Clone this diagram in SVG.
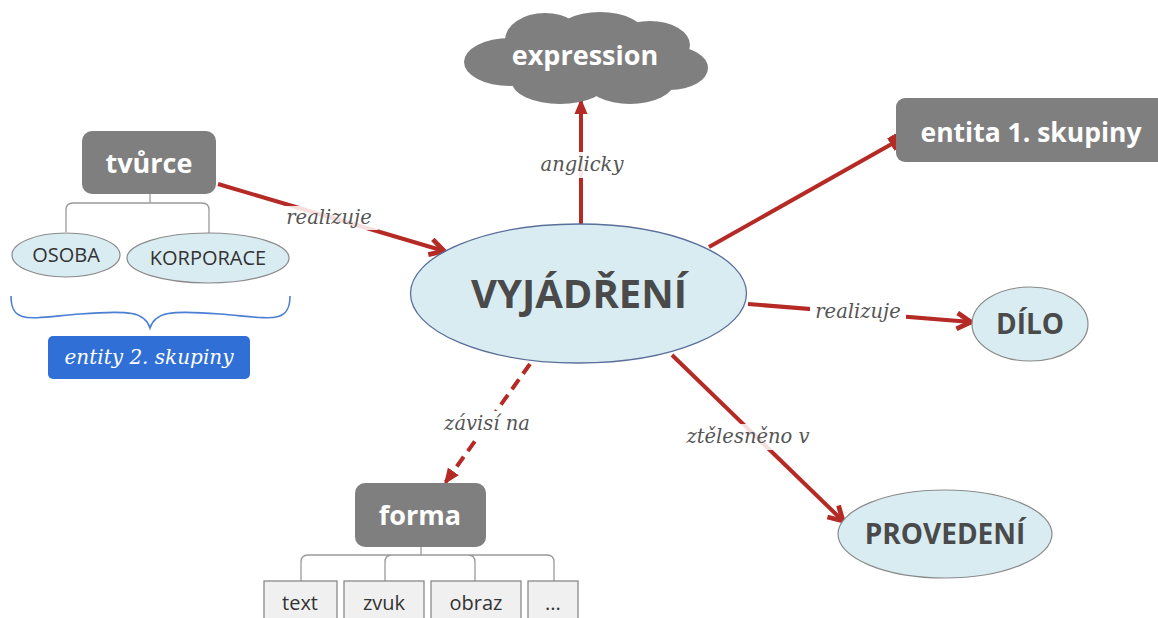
<svg xmlns="http://www.w3.org/2000/svg" width="1158" height="618" viewBox="0 0 1158 618">
  <style>
    .box { fill: #7f7f7f; }
    .boxText { font-family: "Open Sans", "Liberation Sans", sans-serif; font-weight: bold; fill: #ffffff; text-anchor: middle; }
    .oval { fill: #d9ecf2; stroke: #8a8a8a; stroke-width: 1.2; }
    .ovalText { font-family: "Open Sans", "Liberation Sans", sans-serif; font-weight: bold; fill: #4a4a4a; text-anchor: middle; }
    .small { font-family: "Open Sans", "Liberation Sans", sans-serif; fill: #333333; text-anchor: middle; font-size: 20px; }
    .conn { stroke: #b52a24; stroke-width: 4; fill: none; }
    .label { font-family: "DejaVu Serif", "Liberation Serif", serif; font-style: italic; font-size: 19.5px; fill: #555555; text-anchor: middle; }
    .tree { stroke: #9a9a9a; stroke-width: 1.3; fill: none; }
    .leaf { fill: #f0f0f0; stroke: #8a8a8a; stroke-width: 1.3; }
  </style>
  <defs>
    <marker id="arrow" viewBox="0 0 10 10" refX="8" refY="5" markerWidth="5" markerHeight="5" orient="auto" markerUnits="strokeWidth">
      <path d="M1,1 L8,5 L1,9" fill="none" stroke="#b52a24" stroke-width="2.4"/>
    </marker>
    <marker id="arrowSolid" viewBox="0 0 10 10" refX="9" refY="5" markerWidth="4" markerHeight="4" orient="auto" markerUnits="strokeWidth">
      <path d="M0,0.8 L10,5 L0,9.2 Z" fill="#b52a24"/>
    </marker>
    <marker id="square" viewBox="0 0 10 10" refX="5" refY="5" markerWidth="3.6" markerHeight="3.6" orient="auto" markerUnits="strokeWidth">
      <rect x="0" y="0" width="10" height="10" fill="#b52a24"/>
    </marker>
  </defs>

  <rect width="1158" height="618" fill="#ffffff"/>

  <!-- connectors -->
  <g id="connectors">
    <line class="conn" x1="218" y1="184" x2="444" y2="251" marker-end="url(#arrow)"/>
    <line class="conn" x1="581" y1="224" x2="581" y2="100" marker-end="url(#arrowSolid)"/>
    <line class="conn" x1="709" y1="247" x2="897" y2="141" marker-end="url(#square)"/>
    <line class="conn" x1="748" y1="304" x2="971" y2="322" marker-end="url(#arrow)"/>
    <line class="conn" x1="530" y1="364" x2="445" y2="483" stroke-dasharray="12,7" marker-end="url(#arrowSolid)"/>
    <line class="conn" x1="672" y1="355" x2="843" y2="521" marker-end="url(#arrow)"/>

    <!-- connector labels -->
    <rect x="280" y="206" width="98" height="24" fill="#ffffff" opacity="0.85"/>
    <text class="label" x="329" y="224">realizuje</text>
    <rect x="534" y="152" width="96" height="26" fill="#ffffff" opacity="0.9"/>
    <text class="label" x="582" y="171">anglicky</text>
    <rect x="810" y="300" width="96" height="24" fill="#ffffff"/>
    <text class="label" x="858" y="318">realizuje</text>
    <rect x="438" y="411" width="98" height="26" fill="#ffffff"/>
    <text class="label" x="487" y="430">závisí na</text>
    <rect x="686" y="424" width="124" height="26" fill="#ffffff" opacity="0.85"/>
    <text class="label" x="748" y="443">ztělesněno v</text>
  </g>

  <!-- tvůrce with its two kinds -->
  <g id="tvurce">
    <rect class="box" x="82" y="131" width="134" height="63" rx="10"/>
    <text class="boxText" x="149" y="173" font-size="27">tvůrce</text>
  </g>
  <g id="tvurce-tree">
    <path class="tree" d="M150,194 V203 M66,232 V210 Q66,203 73,203 H202 Q209,203 209,210 V234"/>
  </g>
  <g id="osoba">
    <ellipse class="oval" cx="66" cy="255" rx="54" ry="22"/>
    <text class="small" x="66" y="262">OSOBA</text>
  </g>
  <g id="korporace">
    <ellipse class="oval" cx="208" cy="258" rx="81" ry="25"/>
    <text class="small" x="208" y="265">KORPORACE</text>
  </g>
  <g id="brace">
    <path d="M11,296 C11,325 30,318 80,314 C130,310 145,312 150,328 C155,312 170,310 220,314 C270,318 290,325 290,296" fill="none" stroke="#4a7fd4" stroke-width="1.6"/>
  </g>
  <g id="entity2">
    <rect x="48" y="336" width="202" height="43" rx="5" fill="#2f6fd6"/>
    <text x="149" y="364" font-family="DejaVu Serif, Liberation Serif, serif" font-style="italic" font-size="20" fill="#ffffff" text-anchor="middle">entity 2. skupiny</text>
  </g>

  <!-- expression cloud -->
  <g id="expression">
    <g fill="#7f7f7f">
      <ellipse cx="510" cy="62" rx="46" ry="24"/>
      <ellipse cx="545" cy="40" rx="40" ry="27"/>
      <ellipse cx="600" cy="36" rx="46" ry="24"/>
      <ellipse cx="650" cy="45" rx="40" ry="24"/>
      <ellipse cx="670" cy="68" rx="38" ry="22"/>
      <ellipse cx="630" cy="82" rx="44" ry="22"/>
      <ellipse cx="560" cy="82" rx="48" ry="22"/>
      <ellipse cx="585" cy="58" rx="100" ry="30"/>
    </g>
    <text class="boxText" x="585" y="65" font-size="27">expression</text>
  </g>

  <g id="entita1">
    <rect class="box" x="896" y="98" width="272" height="64" rx="9"/>
    <text class="boxText" x="1031" y="142" font-size="26.5">entita 1. skupiny</text>
  </g>

  <g id="vyjadreni">
    <ellipse cx="578.5" cy="293.5" rx="168" ry="69.5" fill="#d9ecf2" stroke="#5a6e9a" stroke-width="1.3"/>
    <text class="ovalText" x="579" y="308" font-size="40">VYJÁDŘENÍ</text>
  </g>

  <g id="dilo">
    <ellipse class="oval" cx="1030" cy="324" rx="58" ry="37"/>
    <text class="ovalText" x="1030" y="334" font-size="28">DÍLO</text>
  </g>

  <g id="provedeni">
    <ellipse class="oval" cx="945" cy="534" rx="107" ry="44"/>
    <text class="ovalText" x="945" y="544" font-size="28">PROVEDENÍ</text>
  </g>

  <!-- forma with its kinds -->
  <g id="forma">
    <rect class="box" x="355" y="483" width="131" height="64" rx="10"/>
    <text class="boxText" x="420" y="525" font-size="27">forma</text>
  </g>
  <g id="forma-tree">
    <path class="tree" d="M421,547 V555 M301,581 V562 Q301,555 308,555 H547 Q554,555 554,562 V581 M385,581 V562 Q385,555 392,555 M475,581 V562 Q475,555 468,555"/>
  </g>
  <g id="text">
    <rect class="leaf" x="264" y="581" width="73" height="44"/>
    <text class="small" x="300" y="610">text</text>
  </g>
  <g id="zvuk">
    <rect class="leaf" x="344" y="581" width="80" height="44"/>
    <text class="small" x="384" y="610">zvuk</text>
  </g>
  <g id="obraz">
    <rect class="leaf" x="431" y="581" width="90" height="44"/>
    <text class="small" x="476" y="610">obraz</text>
  </g>
  <g id="more">
    <rect class="leaf" x="528" y="581" width="50" height="44"/>
    <text class="small" x="553" y="610">...</text>
  </g>
</svg>
